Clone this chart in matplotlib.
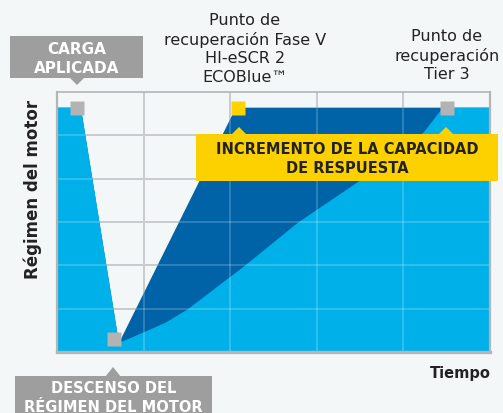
import matplotlib.pyplot as plt
from matplotlib.patches import Rectangle, Polygon

W, H = 503, 414

# curves (x = time in grid columns, y = engine speed in grid rows)
tiempo_t3 = [0, 0.27, 0.71, 0.99, 1.25, 1.50, 2.15, 2.78, 3.46, 4.23, 4.45, 5.0]
regimen_t3 = [5.65, 5.65, 0.22, 0.46, 0.69, 0.99, 1.98, 3.00, 3.92, 5.08, 5.65, 5.65]
tiempo_v = [0, 0.27, 0.71, 2.06, 5.0]
regimen_v = [5.65, 5.65, 0.22, 5.65, 5.65]

punto_x = [0.23, 0.66, 2.09, 4.50]
punto_y = [5.63, 0.30, 5.63, 5.63]
punto_col = ['#b3b3b3', '#b3b3b3', '#ffd200', '#b3b3b3']

bg = '#f4f7f8'
azul_claro = '#00b1e9'
azul_oscuro = '#0063a7'
amarillo = '#fdd000'
gris_caja = '#9e9e9e'

fig = plt.figure(figsize=(W / 100, H / 100), dpi=100, facecolor=bg)
ax = fig.add_axes([57 / W, (H - 353) / H, 433 / W, 260 / H])
ax.set_facecolor(bg)

ax.fill_between(tiempo_v, 0, regimen_v, color=azul_oscuro, lw=0, zorder=1)
ax.fill_between(tiempo_t3, 0, regimen_t3, color=azul_claro, lw=0, zorder=2)

# grid: gray below the fills, faint white on top so it shows through the blue
for gx in range(1, 5):
    ax.axvline(gx, color='#b3b6b9', lw=1.2, zorder=0.5)
    ax.axvline(gx, color='white', lw=1.2, alpha=0.22, zorder=3)
for gy in range(1, 6):
    ax.axhline(gy, color='#b3b6b9', lw=1.2, zorder=0.5)
    ax.axhline(gy, color='white', lw=1.2, alpha=0.22, zorder=3)

for x, y, c in zip(punto_x, punto_y, punto_col):
    ax.plot(x, y, marker='s', ms=10, color=c, mec='none', zorder=5)

ax.set_xlim(0, 5)
ax.set_ylim(0, 6)
ax.set_xticks([])
ax.set_yticks([])
for s in ['left', 'right']:
    ax.spines[s].set_color('#b5b5b5')
    ax.spines[s].set_linewidth(1.6)
ax.spines['bottom'].set_color('#b5b5b5')
ax.spines['bottom'].set_linewidth(2.4)
ax.spines['top'].set_color('#b3b6b9')
ax.spines['top'].set_linewidth(1.2)
for s in ax.spines.values():
    s.set_zorder(6)

txt = '#222222'
fig.text(33 / W, 1 - 189 / H, 'Régimen del motor', rotation=90, ha='center', va='center',
         fontsize=12, fontweight='bold', color=txt)
fig.text(491 / W, 1 - 374 / H, 'Tiempo', ha='right', va='center',
         fontsize=10.5, fontweight='bold', color=txt)

fig.text(245 / W, 1 - 49 / H, 'Punto de\nrecuperación Fase V\nHI-eSCR 2\nECOBlue™',
         ha='center', va='center', fontsize=11.5, color=txt, linespacing=1.28)
fig.text(447 / W, 1 - 56 / H, 'Punto de\nrecuperación\nTier 3',
         ha='center', va='center', fontsize=11.5, color=txt, linespacing=1.28)


def caja(x0, y0, x1, y1, color, puntas, texto, tcol, fs, ty):
    # box and pointer triangles in figure pixels (y measured from top)
    fig.patches.append(Rectangle((x0 / W, 1 - y1 / H), (x1 - x0) / W, (y1 - y0) / H,
                                 transform=fig.transFigure, color=color, lw=0, zorder=10))
    for px, base, tip in puntas:
        fig.patches.append(Polygon([((px - 8) / W, 1 - base / H), ((px + 8) / W, 1 - base / H),
                                    (px / W, 1 - tip / H)], closed=True,
                                   transform=fig.transFigure, color=color, lw=0, zorder=10))
    fig.text((x0 + x1) / 2 / W, 1 - ty / H, texto, ha='center', va='center', color=tcol,
             fontsize=fs, fontweight='bold', linespacing=1.35, zorder=11)


caja(10, 37, 143, 79, gris_caja, [(77, 78, 86)], 'CARGA\nAPLICADA', 'white', 11, 59)
caja(15, 377, 212, 420, gris_caja, [(113, 378, 368)], 'DESCENSO DEL\nRÉGIMEN DEL MOTOR',
     'white', 10.5, 398)
caja(196, 135, 498, 182, amarillo, [(239, 136, 128), (446, 136, 128)],
     'INCREMENTO DE LA CAPACIDAD\nDE RESPUESTA', txt, 10.5, 159)

fig.savefig('out.png', dpi=100, facecolor=bg)
